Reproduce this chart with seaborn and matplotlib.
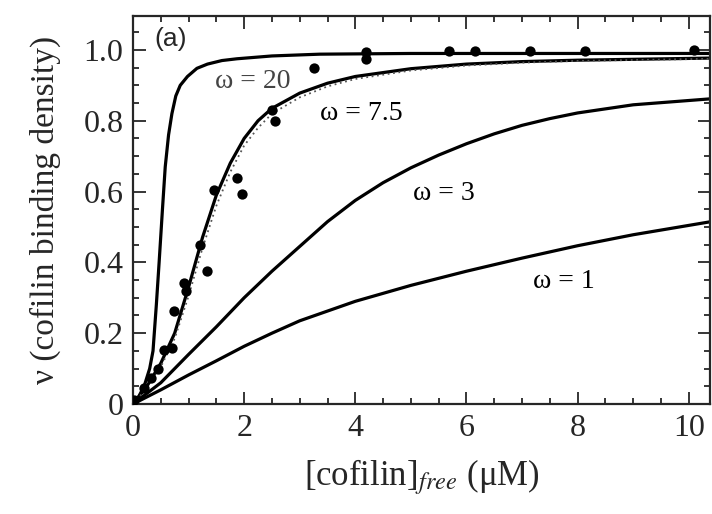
import numpy as np
import pandas as pd
import matplotlib
matplotlib.use("Agg")
import matplotlib.pyplot as plt
import seaborn as sns
from matplotlib.ticker import MultipleLocator

# ---- data ----
x_w1 = [0, 0.5, 1, 1.5, 2, 2.5, 3, 4, 5, 6, 7, 8, 9, 10.4]
y_w1 = [0, 0.04, 0.082, 0.122, 0.163, 0.2, 0.235, 0.29, 0.335, 0.375, 0.412, 0.447, 0.478, 0.515]

x_w3 = [0, 0.5, 1, 1.5, 2, 2.5, 3, 3.5, 4, 4.5, 5, 5.5, 6, 6.5, 7, 7.5, 8, 9, 10.4]
y_w3 = [0, 0.06, 0.14, 0.218, 0.3, 0.375, 0.445, 0.515, 0.575, 0.625, 0.667, 0.703, 0.735, 0.763, 0.787, 0.806, 0.822, 0.845, 0.862]

x_w75 = [0, 0.25, 0.5, 0.75, 1.0, 1.25, 1.5, 1.75, 2.0, 2.25, 2.5, 3, 3.5, 4, 5, 6, 7, 8, 10.4]
y_w75 = [0, 0.05, 0.115, 0.2, 0.33, 0.47, 0.59, 0.68, 0.75, 0.8, 0.835, 0.878, 0.906, 0.925, 0.947, 0.96, 0.967, 0.971, 0.977]

x_w75d = [0, 0.25, 0.5, 0.75, 1.0, 1.25, 1.5, 1.75, 2.0, 2.25, 2.5, 3, 3.5, 4, 5, 6, 7, 8, 10.4]
y_w75d = [0, 0.045, 0.105, 0.185, 0.305, 0.44, 0.56, 0.655, 0.73, 0.78, 0.82, 0.866, 0.897, 0.918, 0.942, 0.956, 0.964, 0.969, 0.975]

x_w20 = [0, 0.1, 0.2, 0.3, 0.36, 0.42, 0.47, 0.53, 0.58, 0.64, 0.7, 0.77, 0.85, 0.98, 1.15, 1.34, 1.6, 1.87, 2.5, 3.36, 5, 10.4]
y_w20 = [0, 0.02, 0.05, 0.10, 0.15, 0.28, 0.40, 0.55, 0.67, 0.76, 0.82, 0.87, 0.90, 0.925, 0.948, 0.96, 0.97, 0.975, 0.983, 0.988, 0.99, 0.99]

pts_x = [0.02, 0.2, 0.32, 0.45, 0.55, 0.71, 0.73, 0.91, 0.95, 1.21, 1.34, 1.46, 1.87, 1.96,
         2.5, 2.55, 3.25, 4.2, 4.2, 5.68, 6.16, 7.14, 8.14, 10.1]
pts_y = [0.01, 0.045, 0.073, 0.10, 0.152, 0.158, 0.262, 0.341, 0.318, 0.448, 0.375, 0.603, 0.637, 0.594,
         0.83, 0.80, 0.95, 0.995, 0.975, 0.997, 0.997, 0.997, 0.997, 1.0]

labels = ["ω = 20", "ω = 7.5", "ω = 3", "ω = 1"]
label_x = [2.15, 4.1, 5.6, 7.75]
label_y = [0.91, 0.82, 0.594, 0.346]
xticks = [0, 2, 4, 6, 8, 10]
yticks = [0, 0.2, 0.4, 0.6, 0.8, 1.0]
ytick_labels = ["0", "0.2", "0.4", "0.6", "0.8", "1.0"]

sns.set_style("ticks")
plt.rcParams["font.family"] = ["Liberation Serif", "DejaVu Serif"]
plt.rcParams["mathtext.fontset"] = "stix"

fig = plt.figure(figsize=(7.12, 5.14), dpi=100)
ax = fig.add_axes([0.1868, 0.214, 0.8102, 0.755])

curves = [(x_w1, y_w1), (x_w3, y_w3), (x_w75, y_w75), (x_w20, y_w20)]
for cx, cy in curves:
    df = pd.DataFrame({"x": cx, "y": cy})
    sns.lineplot(data=df, x="x", y="y", ax=ax, color="black", linewidth=2.3,
                 estimator=None, sort=False)

dfd = pd.DataFrame({"x": x_w75d, "y": y_w75d})
sns.lineplot(data=dfd, x="x", y="y", ax=ax, color="#555555", linewidth=1.3,
             linestyle=(0, (1, 2)), estimator=None, sort=False)

dfp = pd.DataFrame({"x": pts_x, "y": pts_y})
sns.scatterplot(data=dfp, x="x", y="y", ax=ax, color="black", s=55,
                edgecolor="black", linewidth=0, zorder=5)

for t, lx, ly in zip(labels, label_x, label_y):
    ax.text(lx, ly, t, fontsize=20, ha="center", va="center",
            color="#444444" if t == "ω = 20" else "black")

ax.text(0.38, 1.03, "(a)", fontsize=19, family=["Liberation Sans", "DejaVu Sans"],
        ha="left", va="center")

ax.set_xlim(0, 10.38)
ax.set_ylim(0, 1.096)
ax.set_xticks(xticks)
ax.set_xticklabels([str(v) for v in xticks])
ax.set_yticks(yticks)
ax.set_yticklabels(ytick_labels)
ax.xaxis.set_minor_locator(MultipleLocator(0.5))
ax.yaxis.set_minor_locator(MultipleLocator(0.05))
ax.tick_params(which="both", direction="in", top=True, right=True, width=1.3)
ax.tick_params(which="major", length=9, labelsize=23, pad=7)
ax.tick_params(which="minor", length=4.5)
for s in ax.spines.values():
    s.set_linewidth(1.6)
    s.set_visible(True)

ax.set_xlabel("[cofilin]$_{free}$ (μM)", fontsize=25, labelpad=10)
ax.set_ylabel("ν (cofilin binding density)", fontsize=24, labelpad=16)

fig.savefig("out.png", dpi=100)
